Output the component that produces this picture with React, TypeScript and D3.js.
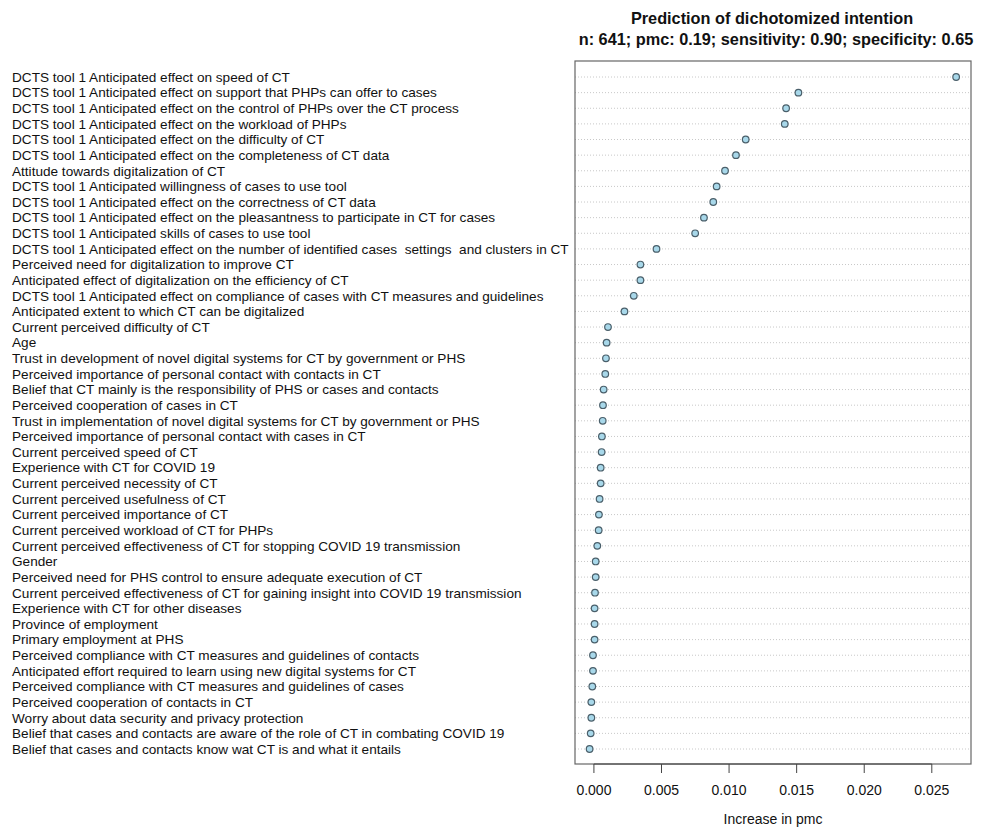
import React from "react";
import * as d3 from "d3";

const labels: string[] = [
  "DCTS tool 1 Anticipated effect on speed of CT",
  "DCTS tool 1 Anticipated effect on support that PHPs can offer to cases",
  "DCTS tool 1 Anticipated effect on the control of PHPs over the CT process",
  "DCTS tool 1 Anticipated effect on the workload of PHPs",
  "DCTS tool 1 Anticipated effect on the difficulty of CT",
  "DCTS tool 1 Anticipated effect on the completeness of CT data",
  "Attitude towards digitalization of CT",
  "DCTS tool 1 Anticipated willingness of cases to use tool",
  "DCTS tool 1 Anticipated effect on the correctness of CT data",
  "DCTS tool 1 Anticipated effect on the pleasantness to participate in CT for cases",
  "DCTS tool 1 Anticipated skills of cases to use tool",
  "DCTS tool 1 Anticipated effect on the number of identified cases  settings  and clusters in CT",
  "Perceived need for digitalization to improve CT",
  "Anticipated effect of digitalization on the efficiency of CT",
  "DCTS tool 1 Anticipated effect on compliance of cases with CT measures and guidelines",
  "Anticipated extent to which CT can be digitalized",
  "Current perceived difficulty of CT",
  "Age",
  "Trust in development of novel digital systems for CT by government or PHS",
  "Perceived importance of personal contact with contacts in CT",
  "Belief that CT mainly is the responsibility of PHS or cases and contacts",
  "Perceived cooperation of cases in CT",
  "Trust in implementation of novel digital systems for CT by government or PHS",
  "Perceived importance of personal contact with cases in CT",
  "Current perceived speed of CT",
  "Experience with CT for COVID 19",
  "Current perceived necessity of CT",
  "Current perceived usefulness of CT",
  "Current perceived importance of CT",
  "Current perceived workload of CT for PHPs",
  "Current perceived effectiveness of CT for stopping COVID 19 transmission",
  "Gender",
  "Perceived need for PHS control to ensure adequate execution of CT",
  "Current perceived effectiveness of CT for gaining insight into COVID 19 transmission",
  "Experience with CT for other diseases",
  "Province of employment",
  "Primary employment at PHS",
  "Perceived compliance with CT measures and guidelines of contacts",
  "Anticipated effort required to learn using new digital systems for CT",
  "Perceived compliance with CT measures and guidelines of cases",
  "Perceived cooperation of contacts in CT",
  "Worry about data security and privacy protection",
  "Belief that cases and contacts are aware of the role of CT in combating COVID 19",
  "Belief that cases and contacts know wat CT is and what it entails",
];

const values: number[] = [
  0.0268, 0.01513, 0.01422, 0.01412, 0.01123, 0.01051, 0.0097, 0.00908,
  0.00883, 0.00814, 0.00749, 0.00463, 0.00344, 0.00344, 0.00295, 0.00226,
  0.00104, 0.00094, 0.00089, 0.00084, 0.00072, 0.00067, 0.00065, 0.00059,
  0.00057, 0.0005, 0.0005, 0.00042, 0.00037, 0.00035, 0.00025, 0.00013,
  0.00013, 0.00008, 0.00005, 0.00005, 0.00005, -0.00007, -0.00007, -0.00012,
  -0.00019, -0.00019, -0.00024, -0.00032,
];

const xTicks: number[] = [0, 0.005, 0.01, 0.015, 0.02, 0.025];

const titleLines: string[] = [
  "Prediction of dichotomized intention",
  "n: 641; pmc: 0.19; sensitivity: 0.90; specificity: 0.65",
];
const xLabel = "Increase in pmc";

export default function App() {
  const W = 987;
  const H = 827;
  const box = { left: 575, right: 971, top: 61, bottom: 764 };
  const x = d3.scaleLinear().domain([-0.0014, 0.0279]).range([box.left, box.right]);
  const y = d3
    .scalePoint<number>()
    .domain(d3.range(labels.length))
    .range([77, 749]);
  const font = "'Liberation Sans', Arial, Helvetica, sans-serif";
  const cx = (box.left + box.right) / 2;

  return (
    <svg
      width={W}
      height={H}
      style={{ position: "absolute", left: 0, top: 0, background: "#fff" }}
      fontFamily={font}
    >
      <rect x={0} y={0} width={W} height={H} fill="#fff" />
      {titleLines.map((t, i) => (
        <text
          key={i}
          x={cx + (i === 0 ? -1 : 3)}
          y={24 + i * 21}
          textAnchor="middle"
          fontWeight="bold"
          fontSize={16.3}
          fill="#111"
        >
          {t}
        </text>
      ))}
      {labels.map((l, i) => (
        <g key={i}>
          <line
            x1={box.left}
            x2={box.right}
            y1={y(i)!}
            y2={y(i)!}
            stroke="#c8c8c8"
            strokeWidth={1}
            strokeDasharray="1,2"
          />
          <text
            x={12}
            y={y(i)! + 4.8}
            fontSize={13.6}
            fill="#111"
            style={{ whiteSpace: "pre" }}
          >
            {l}
          </text>
        </g>
      ))}
      {values.map((v, i) => (
        <circle
          key={i}
          cx={x(v)}
          cy={y(i)!}
          r={3.3}
          fill="#a8d8ea"
          stroke="#4a5f6a"
          strokeWidth={1.2}
        />
      ))}
      <rect
        x={box.left}
        y={box.top}
        width={box.right - box.left}
        height={box.bottom - box.top}
        fill="none"
        stroke="#666"
        strokeWidth={1.2}
      />
      <line x1={x(0)} x2={x(0.025)} y1={box.bottom} y2={box.bottom} stroke="#444" />
      {xTicks.map((t, i) => (
        <g key={i}>
          <line x1={x(t)} x2={x(t)} y1={box.bottom} y2={box.bottom + 9} stroke="#444" strokeWidth={1} />
          <text x={x(t)} y={795} textAnchor="middle" fontSize={14} fill="#111">
            {d3.format(".3f")(t)}
          </text>
        </g>
      ))}
      <text x={773} y={824} textAnchor="middle" fontSize={14} fill="#111">
        {xLabel}
      </text>
    </svg>
  );
}
